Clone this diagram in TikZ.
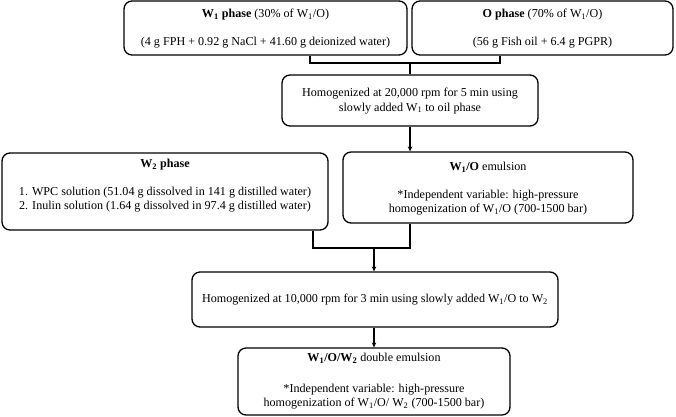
\documentclass[tikz,border=0pt]{standalone}
\usepackage{fontspec}
\setmainfont{Liberation Serif}
\usetikzlibrary{arrows.meta}
\tikzset{
  box/.style={draw, line width=1.3pt, rounded corners=8pt, inner sep=0pt},
  txt/.style={inner sep=0pt, font=\fontsize{12.1}{14.2}\selectfont, align=center},
  conn/.style={line width=1.3pt},
  arr/.style={line width=1.3pt, -{Stealth[length=5pt,width=4.5pt]}}
}
\newcommand{\sbs}[1]{\textsubscript{#1}}
\begin{document}
\begin{tikzpicture}[x=1pt,y=-1pt]
\useasboundingbox (0,0) rectangle (676,416);
% boxes
\node[box, minimum width=283pt, minimum height=54pt] (w1) at (265.5,28) {};
\node[box, minimum width=261pt, minimum height=54pt] (o) at (542.5,28) {};
\node[box, minimum width=256pt, minimum height=51pt] (h1) at (410,100.5) {};
\node[box, minimum width=326pt, minimum height=77pt] (w2) at (165,191.5) {};
\node[box, minimum width=290pt, minimum height=71pt] (wo) at (488,187.5) {};
\node[box, minimum width=366pt, minimum height=55pt] (h2) at (375,299.5) {};
\node[box, minimum width=272pt, minimum height=67pt] (fin) at (374,381.5) {};
% texts
\node[txt] (t1a) at (265.5,15) {\textbf{W\sbs{1} phase} (30\% of W\sbs{1}/O)};
\node[txt] (t1b) at (265.5,43) {(4 g FPH + 0.92 g NaCl + 41.60 g deionized water)};
\node[txt] (t2a) at (542.5,15) {\textbf{O phase} (70\% of W\sbs{1}/O)};
\node[txt] (t2b) at (542.5,43) {(56 g Fish oil + 6.4 g PGPR)};
\node[txt] (t3) at (410,101) {Homogenized at 20,000 rpm for 5 min using\\slowly added W\sbs{1} to oil phase};
\node[txt] (t4a) at (165,165) {\textbf{W\sbs{2} phase}};
\node[txt] (t4b) at (165,200) {1. WPC solution (51.04 g dissolved in 141 g distilled water)\\2. Inulin solution (1.64 g dissolved in 97.4 g distilled water)};
\node[txt] (t5a) at (488,167) {\textbf{W\sbs{1}/O} emulsion};
\node[txt] (t5b) at (488,202.5) {*Independent variable: high-pressure\\homogenization of W\sbs{1}/O (700-1500 bar)};
\node[txt] (t6) at (375,300) {Homogenized at 10,000 rpm for 3 min using slowly added W\sbs{1}/O to W\sbs{2}};
\node[txt] (t7a) at (374,358) {\textbf{W\sbs{1}/O/W\sbs{2}} double emulsion};
\node[txt] (t7b) at (374,396.5) {*Independent variable: high-pressure\\homogenization of W\sbs{1}/O/ W\sbs{2} (700-1500 bar)};
% connectors
\coordinate (m1) at (410,63);
\coordinate (m2) at (374,248);
\draw[conn] ([xshift=44.5pt]w1.south) |- (m1);
\draw[conn] ([xshift=-42.5pt]o.south) |- (m1);
\draw[conn] (m1) -- (h1.north);
\draw[arr] (h1.south) -- (wo.north -| h1.south);
\draw[conn] ([xshift=148pt]w2.south) |- (m2);
\draw[conn] ([xshift=-78pt]wo.south) |- (m2);
\draw[arr] (m2) -- (h2.north -| m2);
\draw[arr] (h2.south -| fin.north) -- (fin.north);
\end{tikzpicture}
\end{document}
